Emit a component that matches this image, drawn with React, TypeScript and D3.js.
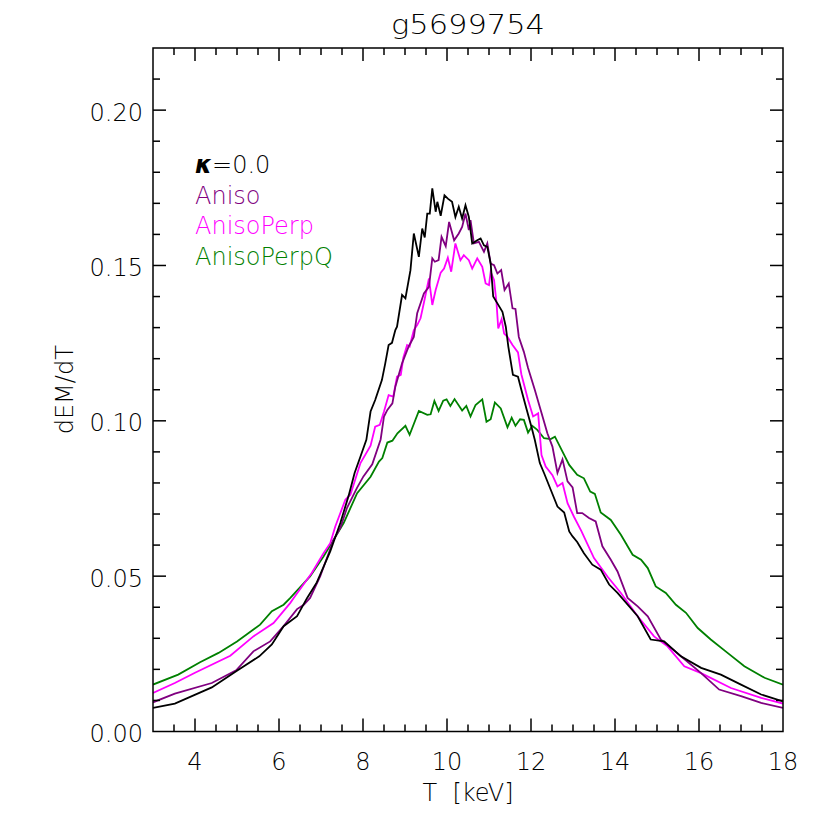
import React, { useEffect, useRef } from "react";
import * as d3 from "d3";

// title / axes
const chartTitle = "g5699754";
const xLabel = "T\u00a0\u00a0[keV]";
const yLabel = "dEM/dT";
const xTickValues = [4, 6, 8, 10, 12, 14, 16, 18];
const yTickValues = [0.0, 0.05, 0.1, 0.15, 0.2];

// kappa = 0.0 (black)
const kappaT = [3.0, 3.52, 4.4, 4.98, 5.53, 5.83, 6.11, 6.43, 6.67, 6.9, 7.22, 7.46, 7.66, 7.8, 7.94, 8.08, 8.18, 8.29, 8.45, 8.53, 8.61, 8.69, 8.77, 8.81, 8.93, 9.01, 9.13, 9.21, 9.33, 9.41, 9.47, 9.53, 9.59, 9.65, 9.73, 9.77, 9.85, 9.94, 10.02, 10.12, 10.2, 10.28, 10.36, 10.44, 10.52, 10.6, 10.72, 10.8, 10.88, 10.96, 11.04, 11.1, 11.2, 11.32, 11.4, 11.46, 11.57, 11.69, 11.77, 11.89, 12.01, 12.09, 12.21, 12.31, 12.47, 12.63, 12.79, 12.91, 12.99, 13.1, 13.26, 13.46, 13.66, 13.86, 14.06, 14.54, 14.85, 15.17, 15.57, 16.05, 16.52, 17.0, 17.48, 18.0];
const kappaV = [0.0076, 0.009, 0.0142, 0.0194, 0.0242, 0.028, 0.0339, 0.0371, 0.043, 0.048, 0.058, 0.0671, 0.076, 0.0832, 0.0885, 0.0939, 0.103, 0.1067, 0.1131, 0.1185, 0.1244, 0.1251, 0.1292, 0.1303, 0.1405, 0.1394, 0.1485, 0.1603, 0.1528, 0.1619, 0.159, 0.1667, 0.1667, 0.1748, 0.1673, 0.1705, 0.166, 0.1726, 0.1715, 0.1705, 0.1656, 0.1689, 0.1651, 0.1694, 0.1656, 0.1571, 0.1581, 0.1587, 0.1565, 0.156, 0.1506, 0.14, 0.1378, 0.1351, 0.1303, 0.1239, 0.1148, 0.1142, 0.11, 0.104, 0.0981, 0.0939, 0.0864, 0.0832, 0.0778, 0.0724, 0.0705, 0.0644, 0.0628, 0.061, 0.0574, 0.0537, 0.0521, 0.0473, 0.0446, 0.0371, 0.0296, 0.029, 0.0242, 0.0205, 0.0183, 0.0151, 0.0119, 0.0097];

// Aniso (purple)
const anisoT = [3.0, 3.52, 4.4, 4.98, 5.39, 5.79, 6.11, 6.43, 6.59, 6.74, 6.98, 7.3, 7.46, 7.62, 7.86, 8.01, 8.22, 8.42, 8.5, 8.58, 8.7, 8.77, 8.93, 8.99, 9.09, 9.21, 9.29, 9.45, 9.57, 9.65, 9.71, 9.8, 9.87, 9.97, 10.05, 10.17, 10.28, 10.36, 10.44, 10.52, 10.56, 10.64, 10.76, 10.88, 10.96, 11.04, 11.12, 11.2, 11.29, 11.37, 11.47, 11.56, 11.63, 11.71, 11.83, 11.93, 12.09, 12.23, 12.39, 12.51, 12.63, 12.75, 12.87, 12.99, 13.1, 13.22, 13.38, 13.54, 13.7, 13.9, 14.06, 14.3, 14.54, 14.78, 15.09, 15.57, 16.05, 16.48, 17.0, 17.48, 18.0];
const anisoV = [0.0094, 0.0122, 0.0156, 0.0197, 0.0258, 0.029, 0.0339, 0.0394, 0.0408, 0.043, 0.0499, 0.0617, 0.0655, 0.072, 0.0785, 0.0821, 0.086, 0.094, 0.1014, 0.1035, 0.1056, 0.111, 0.1185, 0.1206, 0.124, 0.127, 0.1346, 0.141, 0.1431, 0.1523, 0.1512, 0.1517, 0.1592, 0.1562, 0.164, 0.1581, 0.1603, 0.1624, 0.1667, 0.1614, 0.1646, 0.1571, 0.1576, 0.1544, 0.1571, 0.1506, 0.1501, 0.1474, 0.1485, 0.1421, 0.1442, 0.1362, 0.136, 0.127, 0.1222, 0.117, 0.11, 0.1035, 0.096, 0.0917, 0.0832, 0.0876, 0.0805, 0.0786, 0.0703, 0.0703, 0.0687, 0.0676, 0.0596, 0.0553, 0.0515, 0.043, 0.0403, 0.0371, 0.0296, 0.0242, 0.0188, 0.0135, 0.0114, 0.0092, 0.0076];

// AnisoPerp (magenta)
const perpT = [3.0, 3.52, 4.0, 4.84, 5.39, 5.87, 6.27, 6.35, 6.78, 7.06, 7.22, 7.34, 7.58, 7.7, 7.94, 8.18, 8.29, 8.4, 8.5, 8.61, 8.72, 8.81, 8.9, 8.96, 9.05, 9.11, 9.21, 9.29, 9.37, 9.45, 9.57, 9.65, 9.73, 9.85, 9.93, 10.02, 10.1, 10.2, 10.32, 10.4, 10.52, 10.6, 10.72, 10.84, 10.92, 11.0, 11.04, 11.12, 11.18, 11.22, 11.3, 11.36, 11.44, 11.56, 11.69, 11.77, 11.93, 12.05, 12.17, 12.25, 12.35, 12.51, 12.63, 12.75, 12.87, 13.02, 13.2, 13.5, 13.82, 14.14, 14.54, 14.93, 15.25, 15.65, 16.05, 16.76, 17.48, 18.0];
const perpV = [0.0124, 0.0156, 0.0189, 0.0244, 0.0306, 0.0349, 0.0414, 0.043, 0.051, 0.0574, 0.0606, 0.066, 0.0746, 0.0762, 0.0864, 0.092, 0.0981, 0.0987, 0.103, 0.1083, 0.1078, 0.1142, 0.1148, 0.1203, 0.1244, 0.1239, 0.1292, 0.1308, 0.133, 0.138, 0.1458, 0.1373, 0.1421, 0.1477, 0.149, 0.1525, 0.148, 0.1571, 0.1517, 0.1533, 0.1517, 0.149, 0.1523, 0.1496, 0.1442, 0.1437, 0.148, 0.1453, 0.1378, 0.1297, 0.1327, 0.1281, 0.127, 0.1244, 0.122, 0.115, 0.1067, 0.1014, 0.1024, 0.089, 0.0853, 0.0825, 0.0789, 0.08, 0.0735, 0.0692, 0.0645, 0.0558, 0.0499, 0.0446, 0.0371, 0.0306, 0.0274, 0.021, 0.0188, 0.014, 0.0108, 0.009];

// AnisoPerpQ (green)
const perpQT = [3.0, 3.6, 4.12, 4.56, 5.0, 5.55, 5.83, 6.11, 6.27, 6.74, 7.06, 7.54, 7.86, 8.18, 8.38, 8.46, 8.58, 8.7, 8.82, 9.01, 9.11, 9.33, 9.53, 9.61, 9.7, 9.8, 9.91, 9.99, 10.08, 10.18, 10.36, 10.46, 10.56, 10.68, 10.84, 10.94, 11.04, 11.14, 11.28, 11.44, 11.54, 11.63, 11.74, 11.83, 11.93, 12.03, 12.15, 12.31, 12.47, 12.57, 12.75, 12.91, 13.1, 13.26, 13.41, 13.52, 13.66, 13.9, 14.14, 14.42, 14.62, 14.78, 14.97, 15.21, 15.45, 15.69, 15.97, 16.28, 16.68, 17.08, 17.56, 18.0];
const perpQV = [0.0151, 0.0183, 0.0223, 0.0253, 0.029, 0.0344, 0.0387, 0.0408, 0.043, 0.0499, 0.0563, 0.0671, 0.0767, 0.082, 0.0869, 0.088, 0.093, 0.0936, 0.096, 0.0984, 0.0955, 0.1032, 0.1019, 0.1021, 0.1064, 0.1032, 0.1065, 0.1069, 0.1048, 0.107, 0.1033, 0.1048, 0.1014, 0.1051, 0.1069, 0.0997, 0.1005, 0.1059, 0.104, 0.0979, 0.101, 0.0984, 0.1005, 0.1003, 0.0962, 0.0984, 0.0971, 0.0944, 0.0941, 0.0949, 0.0901, 0.0858, 0.0826, 0.0815, 0.0772, 0.0765, 0.0705, 0.0681, 0.0633, 0.0569, 0.0553, 0.0526, 0.0467, 0.0446, 0.0408, 0.0382, 0.0333, 0.0296, 0.0253, 0.021, 0.0173, 0.0151];

const seriesNames = ["Aniso", "AnisoPerp", "AnisoPerpQ"];

const App = () => {
  const svgRef = useRef<SVGSVGElement | null>(null);

  useEffect(() => {
    const width = 830;
    const height = 830;
    const margin = { top: 48, right: 47, bottom: 98.5, left: 153 };
    const font = "'DejaVu Sans', sans-serif";

    const root = d3.select(svgRef.current);
    root.selectAll("*").remove();
    root.attr("width", width).attr("height", height);

    root.append("rect").attr("width", width).attr("height", height).attr("fill", "#fff");

    const x = d3.scaleLinear().domain([3, 18]).range([margin.left, width - margin.right]);
    const y = d3.scaleLinear().domain([0, 0.22]).range([height - margin.bottom, margin.top]);

    const series = [
      { color: "#000000", t: kappaT, v: kappaV },
      { color: "#800080", t: anisoT, v: anisoV },
      { color: "#ff00ff", t: perpT, v: perpV },
      { color: "#008000", t: perpQT, v: perpQV },
    ];

    const line = d3
      .line<[number, number]>()
      .x((d) => x(d[0]))
      .y((d) => y(d[1]));

    const plot = root.append("g");
    plot
      .append("clipPath")
      .attr("id", "clip")
      .append("rect")
      .attr("x", x(3))
      .attr("y", y(0.22))
      .attr("width", x(18) - x(3))
      .attr("height", y(0) - y(0.22));

    // draw from last to first so black is on top like the reference
    series
      .slice()
      .reverse()
      .forEach((s) => {
        const pts = s.t.map((t, i) => [t, s.v[i]] as [number, number]);
        plot
          .append("path")
          .attr("d", line(pts))
          .attr("clip-path", "url(#clip)")
          .attr("fill", "none")
          .attr("stroke", s.color)
          .attr("stroke-width", 1.8)
          .attr("stroke-linejoin", "miter");
      });

    // --- frame + ticks (IDL style, inward on all sides) ---
    const axes = root.append("g").attr("stroke", "#000").attr("stroke-width", 1.5);
    axes
      .append("rect")
      .attr("x", x(3))
      .attr("y", y(0.22))
      .attr("width", x(18) - x(3))
      .attr("height", y(0) - y(0.22))
      .attr("fill", "none");

    const major = 13;
    const minor = 7;
    d3.range(3.5, 18, 0.5).forEach((t) => {
      const len = Math.abs(t % 2) < 1e-6 ? major : minor;
      axes.append("line").attr("x1", x(t)).attr("x2", x(t)).attr("y1", y(0)).attr("y2", y(0) - len);
      axes.append("line").attr("x1", x(t)).attr("x2", x(t)).attr("y1", y(0.22)).attr("y2", y(0.22) + len);
    });
    d3.range(1, 22).forEach((k) => {
      const v = k / 100;
      const len = k % 5 === 0 ? major : minor;
      axes.append("line").attr("x1", x(3)).attr("x2", x(3) + len).attr("y1", y(v)).attr("y2", y(v));
      axes.append("line").attr("x1", x(18)).attr("x2", x(18) - len).attr("y1", y(v)).attr("y2", y(v));
    });

    // tick labels
    const labels = root
      .append("g")
      .attr("font-family", font)
      .attr("font-weight", 200)
      .attr("font-size", 24)
      .attr("fill", "#000");
    xTickValues.forEach((t) => {
      labels
        .append("text")
        .attr("x", x(t))
        .attr("y", y(0) + 38)
        .attr("text-anchor", "middle")
        .text(String(t));
    });
    yTickValues.forEach((v) => {
      labels
        .append("text")
        .attr("x", x(3) - 10)
        .attr("y", y(v) + 10.5)
        .attr("text-anchor", "end")
        .text(d3.format(".2f")(v));
    });

    // axis titles
    labels
      .append("text")
      .attr("x", (x(3) + x(18)) / 2)
      .attr("y", 801)
      .attr("text-anchor", "middle")
      .text(xLabel);

    labels
      .append("text")
      .attr("transform", `translate(73, ${(y(0) + y(0.22)) / 2}) rotate(-90)`)
      .attr("text-anchor", "middle")
      .text(yLabel);

    // chart title
    labels
      .append("text")
      .attr("x", (x(3) + x(18)) / 2)
      .attr("y", 33.5)
      .attr("text-anchor", "middle")
      .attr("font-size", 26)
      .attr("textLength", 154)
      .attr("lengthAdjust", "spacingAndGlyphs")
      .text(chartTitle);

    // --- legend (text only, coloured) ---
    const legend = labels.append("g").attr("transform", "translate(195, 173)");
    const kappaLabel = legend.append("text").attr("x", 0).attr("y", 0).attr("fill", "#000");
    kappaLabel.append("tspan").attr("font-weight", "bold").attr("font-style", "italic").text("κ");
    kappaLabel.append("tspan").text("=0.0");

    seriesNames.forEach((name, i) => {
      legend
        .append("text")
        .attr("x", 0)
        .attr("y", (i + 1) * 30.6)
        .attr("fill", series[i + 1].color)
        .text(name);
    });
  }, []);

  return (
    <svg
      ref={svgRef}
      style={{ position: "absolute", left: 0, top: 0, display: "block" }}
    ></svg>
  );
};

export default App;
